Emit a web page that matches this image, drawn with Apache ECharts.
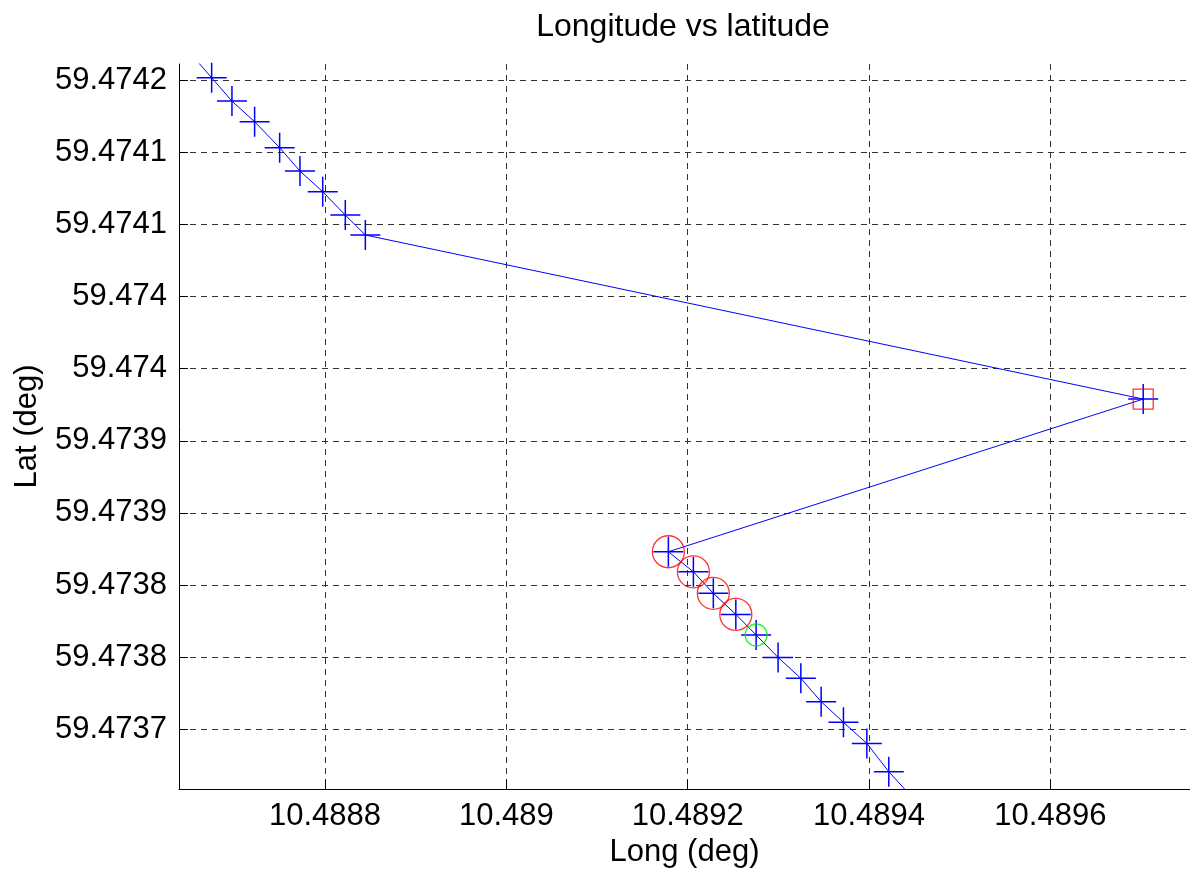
<!DOCTYPE html>
<html>
<head>
<meta charset="utf-8">
<title>Longitude vs latitude</title>
<script src="https://cdn.jsdelivr.net/npm/echarts@6/dist/echarts.min.js"></script>
<style>
  html, body { margin: 0; padding: 0; background: #fff; }
  #track_chart { width: 1190px; height: 879px; }
</style>
</head>
<body>
<div id="track_chart"></div>
<script>
// track points (first and last lie just outside the visible box)
var lonData = [
  10.4886526, 10.488675, 10.4886974, 10.4887224, 10.48875, 10.4887724,
  10.4887975, 10.4888224, 10.4888445, 10.4897024, 10.4891787, 10.4892063,
  10.4892283, 10.4892531, 10.4892755, 10.4892997, 10.4893248, 10.4893472,
  10.4893718, 10.4893976, 10.4894218, 10.4894461
];
var latData = [
  59.4742177, 59.4742016, 59.4741854, 59.4741711, 59.4741531, 59.4741369,
  59.4741226, 59.4741064, 59.4740926, 59.4739789, 59.4738731, 59.4738592,
  59.4738443, 59.4738297, 59.4738154, 59.4737999, 59.4737854, 59.4737692,
  59.4737549, 59.4737403, 59.4737207, 59.473704
];

// highlighted points (index into the track)
var squareIdx = [9];
var redCircleIdx = [10, 11, 12, 13];
var greenCircleIdx = [14];

// axis ticks and the labels printed for them
var xTicks = [10.4888, 10.489, 10.4892, 10.4894, 10.4896];
var xTickLabels = ['10.4888', '10.489', '10.4892', '10.4894', '10.4896'];
var yTicks = [59.4742, 59.47415, 59.4741, 59.47405, 59.474, 59.47395,
  59.4739, 59.47385, 59.4738, 59.47375];
var yTickLabels = ['59.4742', '59.4741', '59.4741', '59.474', '59.474', '59.4739',
  '59.4739', '59.4738', '59.4738', '59.4737'];

var FONT = '"Liberation Sans", Arial, sans-serif';

function pick(idx) {
  return idx.map(function (i) { return [lonData[i], latData[i]]; });
}

function tickLabel(ticks, labels) {
  return function (value) {
    for (var i = 0; i < ticks.length; i++) {
      if (Math.abs(ticks[i] - value) < 1e-9) return labels[i];
    }
    return '';
  };
}

var splitStyle = {
  show: true,
  lineStyle: { color: '#333', width: 1, type: [6, 5] }
};

var trackData = lonData.map(function (lon, i) { return [lon, latData[i]]; });

var option = {
  backgroundColor: '#fff',
  animation: false,
  title: {
    text: 'Longitude vs latitude',
    left: 683,
    textAlign: 'center',
    top: 11,
    padding: 0,
    textStyle: { color: '#000', fontSize: 32, fontWeight: 'normal', fontFamily: FONT }
  },
  grid: { left: 179, top: 64, width: 1011, height: 725, containLabel: false },
  xAxis: {
    type: 'value',
    min: 10.488639,
    max: 10.489754,
    name: 'Long (deg)',
    nameLocation: 'middle',
    nameGap: 42,
    nameTextStyle: { color: '#000', fontSize: 31, fontFamily: FONT },
    axisLine: { show: true, lineStyle: { color: '#000', width: 1 } },
    axisTick: { show: true, inside: true, length: 9, customValues: xTicks, lineStyle: { color: '#000' } },
    axisLabel: {
      customValues: xTicks,
      margin: 12,
      color: '#000',
      fontSize: 31,
      fontFamily: FONT,
      formatter: tickLabel(xTicks, xTickLabels)
    },
    splitLine: splitStyle
  },
  yAxis: {
    type: 'value',
    min: 59.4737087,
    max: 59.4742111,
    name: 'Lat (deg)',
    nameLocation: 'middle',
    nameGap: 136,
    nameTextStyle: { color: '#000', fontSize: 31, fontFamily: FONT },
    axisLine: { show: true, lineStyle: { color: '#000', width: 1 } },
    axisTick: { show: true, inside: true, length: 9, customValues: yTicks, lineStyle: { color: '#000' } },
    axisLabel: {
      customValues: yTicks,
      margin: 12,
      color: '#000',
      fontSize: 31,
      fontFamily: FONT,
      formatter: tickLabel(yTicks, yTickLabels)
    },
    splitLine: splitStyle
  },
  series: [
    {
      name: 'track',
      type: 'line',
      data: trackData,
      clip: true,
      symbol: 'path://M0,-1L0,1M-1,0L1,0',
      symbolSize: 30,
      showAllSymbol: true,
      lineStyle: { color: '#0000ff', width: 1 },
      itemStyle: { color: 'none', borderColor: '#0000ff', borderWidth: 1.5 },
      z: 3
    },
    {
      name: 'square',
      type: 'scatter',
      data: pick(squareIdx),
      symbol: 'rect',
      symbolSize: 20,
      itemStyle: { color: 'none', borderColor: '#ff0000', borderWidth: 1.3 },
      z: 4
    },
    {
      name: 'red',
      type: 'scatter',
      data: pick(redCircleIdx),
      symbol: 'circle',
      symbolSize: 32,
      itemStyle: { color: 'none', borderColor: '#ff0000', borderWidth: 1.3 },
      z: 4
    },
    {
      name: 'green',
      type: 'scatter',
      data: pick(greenCircleIdx),
      symbol: 'circle',
      symbolSize: 22,
      itemStyle: { color: 'none', borderColor: '#00ee00', borderWidth: 1.3 },
      z: 4
    }
  ]
};

var myChart = echarts.init(document.getElementById('track_chart'), null, { renderer: 'canvas' });
myChart.setOption(option);
</script>
</body>
</html>
